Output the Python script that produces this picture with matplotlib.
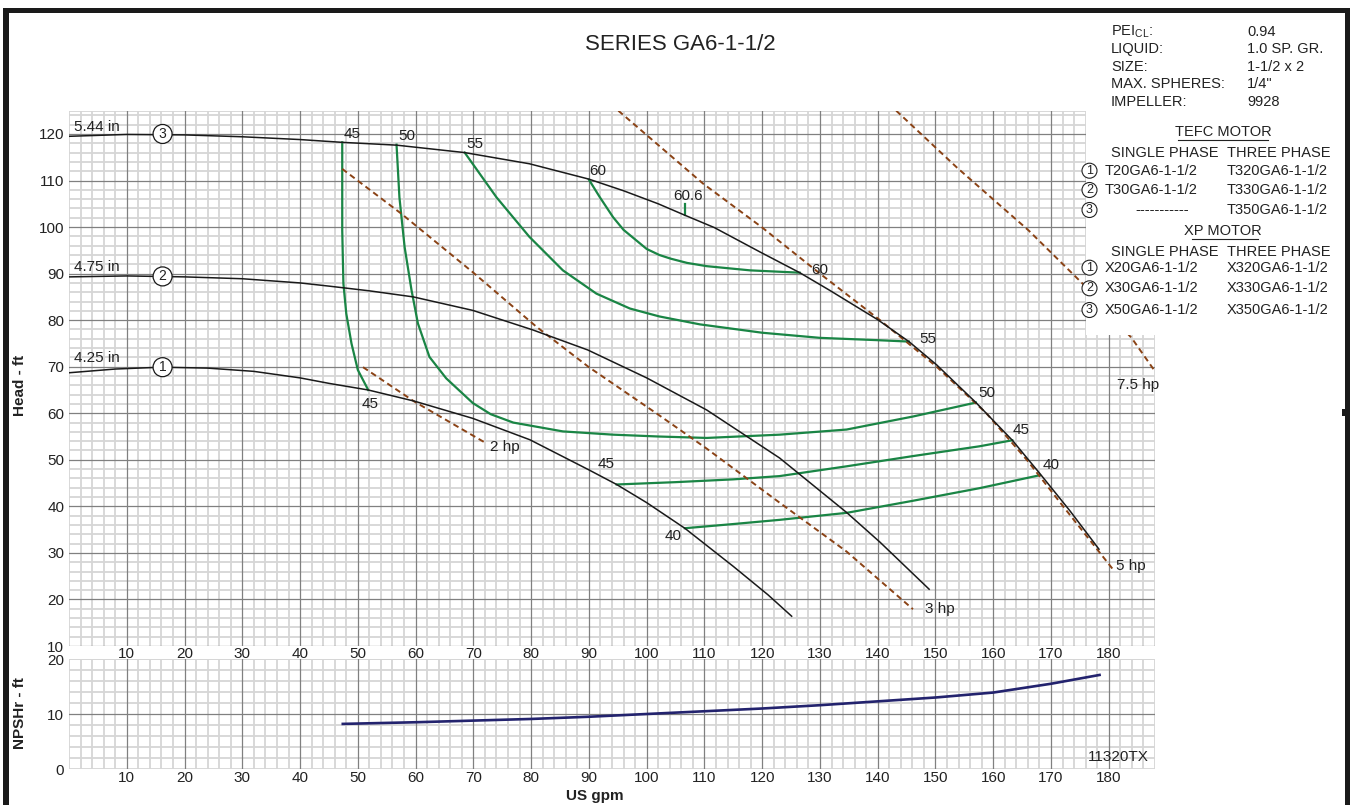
import numpy as np
import matplotlib
matplotlib.use('Agg')
import matplotlib.pyplot as plt
from matplotlib.patches import Rectangle
from matplotlib.lines import Line2D

plt.rcParams['font.family'] = ['Liberation Sans', 'DejaVu Sans']

W, H = 1350, 805

# impeller head curves (US gpm, ft)
d544_x = [0, 10, 20, 30, 40, 47.3, 56.7, 68.5, 79.7, 90, 96, 102, 106.7, 111.7, 119.7, 126.5,
          131.7, 140, 145.4, 150.2, 157, 163.3, 168.1, 173.3, 178.3]
d544_y = [119.5, 119.9, 119.8, 119.4, 118.8, 118.2, 117.6, 116.0, 113.6, 110.3, 107.8, 105.0,
          102.5, 99.9, 94.6, 90.2, 86.4, 80.1, 75.4, 70.4, 62.3, 54.2, 47.0, 39.0, 30.8]
d475_x = [0, 10, 20, 30, 40, 45.1, 52, 59.6, 69.9, 80.3, 89.8, 100, 110.4, 123, 134.6, 140.4, 148.9]
d475_y = [89.3, 89.5, 89.3, 88.9, 88.0, 87.3, 86.3, 85.0, 82.1, 77.9, 73.6, 67.6, 60.7, 50.4, 38.7, 32.3, 22.2]
d425_x = [0, 8, 16, 24, 32, 40, 45.1, 51.8, 59.8, 69.9, 79.8, 89.9, 94.8, 100, 106.6, 115, 121, 125.1]
d425_y = [68.7, 69.5, 69.9, 69.7, 69.0, 67.6, 66.4, 65.0, 62.6, 58.9, 54.3, 47.9, 44.7, 40.8, 35.3, 27.1, 21.0, 16.4]

# efficiency curves
e45a_x = [47.3, 47.3, 47.5, 48.0, 48.9, 50.0, 51.8]
e45a_y = [118.2, 99.3, 87.9, 81.4, 75.0, 69.3, 65.0]
e50_x = [56.7, 57.2, 58.1, 59.3, 60.4, 62.4, 65.3, 69.9, 73.0, 76.9, 85.5, 94.2, 102.2, 110.4, 123, 134.6,
         146.1, 157]
e50_y = [117.7, 106.4, 95.7, 86.4, 79.3, 72.1, 67.5, 62.2, 59.8, 58.0, 56.1, 55.4, 55.0, 54.7, 55.4, 56.5,
         59.3, 62.3]
e55_x = [68.5, 74.0, 79.7, 85.5, 91.3, 97.1, 102.2, 109.2, 120, 130, 140, 145.4]
e55_y = [116.0, 106.4, 97.9, 90.7, 85.7, 82.5, 80.8, 79.1, 77.3, 76.2, 75.7, 75.4]
e60_x = [90, 91.9, 94.2, 96, 100, 102.2, 104.2, 107, 110.4, 117.9, 126.5]
e60_y = [110.2, 106.4, 102.1, 99.4, 95.3, 94.0, 93.2, 92.3, 91.6, 90.7, 90.2]
e606_x = [106.7, 106.7]
e606_y = [102.5, 105.0]
e45b_x = [94.8, 105, 115, 123, 134.6, 146.1, 157.6, 163.3]
e45b_y = [44.7, 45.2, 45.8, 46.5, 48.6, 50.8, 52.9, 54.2]
e40_x = [106.6, 115, 123, 134.6, 146.1, 157.6, 168.1]
e40_y = [35.3, 36.2, 37.1, 38.6, 41.2, 43.9, 46.7]

# motor power lines
hp2_x = [50.9, 59.8, 72.3]
hp2_y = [69.9, 62.5, 53.5]
hp3_x = [47.3, 57.5, 69.9, 80.9, 90, 101.9, 110.4, 123, 134.6, 146.1]
hp3_y = [112.5, 102.9, 90.3, 78.6, 69.9, 59.8, 52.4, 40.8, 30.3, 17.9]
hp5_x = [95.1, 109.8, 119.9, 130, 140.4, 150.2, 158.8, 165.8, 172.1, 180.7]
hp5_y = [125, 109.3, 100, 90, 80, 70, 60, 50, 40, 26.5]
hp75_x = [143.2, 153.7, 166.1, 176.0, 184.0, 188.0]
hp75_y = [125, 112.8, 99.3, 87.2, 76.1, 69.0]

# NPSHr
npsh_x = [47.4, 60, 70, 80, 90, 100, 110, 120, 130, 140, 150, 160, 170, 178.4]
npsh_y = [8.2, 8.5, 8.8, 9.1, 9.5, 10.0, 10.5, 11.0, 11.6, 12.3, 13.0, 13.9, 15.5, 17.1]

eff_labels = [('45', 49.0, 120.0), ('50', 58.5, 119.6), ('55', 70.2, 117.9), ('60', 91.5, 112.1),
              ('60.6', 107.1, 106.7), ('60', 130.0, 90.7), ('55', 148.7, 76.0), ('50', 158.9, 64.4),
              ('45', 164.9, 56.5), ('40', 170.1, 48.8), ('45', 52.1, 61.9), ('45', 92.9, 49.0),
              ('40', 104.5, 33.6)]
hp_labels = [('2 hp', 72.8, 52.8), ('3 hp', 148.2, 17.9), ('5 hp', 181.3, 27.2), ('7.5 hp', 181.4, 66.1)]
dia_labels = [('5.44 in', 120.1, '3', 120.0), ('4.75 in', 90.0, '2', 89.4), ('4.25 in', 70.4, '1', 69.9)]

info_keys = ['PEI$_{\\mathregular{CL}}$:', 'LIQUID:', 'SIZE:', 'MAX. SPHERES:', 'IMPELLER:']
info_vals = ['0.94', '1.0 SP. GR.', '1-1/2 x 2', '1/4"', '9928']
tefc_single = ['T20GA6-1-1/2', 'T30GA6-1-1/2', '-----------']
tefc_three = ['T320GA6-1-1/2', 'T330GA6-1-1/2', 'T350GA6-1-1/2']
xp_single = ['X20GA6-1-1/2', 'X30GA6-1-1/2', 'X50GA6-1-1/2']
xp_three = ['X320GA6-1-1/2', 'X330GA6-1-1/2', 'X350GA6-1-1/2']

GREEN = '#1a8545'
BROWN = '#8a4215'
TXT = '#222222'
LIGHT = '#d6d6d6'
DARK = '#808080'


def fx(x):
    return x / W


def fy(y):
    return 1 - y / H


def draw_grid(ax, xmax, ymin, ymax, ymajor):
    for x in np.arange(0, xmax + 0.1, 2):
        if x % 10 == 0 and 0 < x < xmax:
            continue
        ax.axvline(x, color=LIGHT, lw=1.3, zorder=0)
    for y in np.arange(ymin, ymax + 0.1, 2):
        if y in ymajor:
            continue
        ax.axhline(y, color=LIGHT, lw=1.3, zorder=0)
    ax.axhline(ymax, color=LIGHT, lw=1.3, zorder=0)
    for x in range(10, int(xmax) + 1, 10):
        ax.axvline(x, color=DARK, lw=0.9, zorder=0.5)
    for y in ymajor:
        ax.axhline(y, color=DARK, lw=0.9, zorder=0.5)
    for s in ax.spines.values():
        s.set_visible(False)


fig = plt.figure(figsize=(W / 100, H / 100), dpi=100)
ax1 = fig.add_axes([fx(69), fy(646), 1086 / W, (646 - 110.7) / H])
ax2 = fig.add_axes([fx(69), fy(769), 1086 / W, 110 / H])

ax1.set_xlim(0, 188)
ax1.set_ylim(10, 125)
ax2.set_xlim(0, 188)
ax2.set_ylim(0, 20)
draw_grid(ax1, 188, 10, 125, list(range(10, 121, 10)))
draw_grid(ax2, 188, 0, 20, [10])

for ax in (ax1, ax2):
    ax.set_xticks(range(10, 181, 10))
    ax.tick_params(length=0, labelsize=11, labelcolor=TXT)
ax1.set_yticks(range(10, 121, 10))
ax2.set_yticks([0, 10, 20])
ax1.tick_params(axis='x', pad=0.5)
ax2.tick_params(axis='x', pad=1.5)
ax1.tick_params(axis='y', pad=3.5)
ax2.tick_params(axis='y', pad=3.5)

# head curves
for xs, ys in [(d544_x, d544_y), (d475_x, d475_y), (d425_x, d425_y)]:
    ax1.plot(xs, ys, color='#1a1a1a', lw=1.1, zorder=3)

for xs, ys in [(e45a_x, e45a_y), (e50_x, e50_y), (e55_x, e55_y), (e60_x, e60_y),
               (e606_x, e606_y), (e45b_x, e45b_y), (e40_x, e40_y)]:
    ax1.plot(xs, ys, color=GREEN, lw=1.6, zorder=2)

for xs, ys in [(hp2_x, hp2_y), (hp3_x, hp3_y), (hp5_x, hp5_y), (hp75_x, hp75_y)]:
    ax1.plot(xs, ys, color=BROWN, lw=1.4, dashes=(3, 2), zorder=2.5)

for t, x, y in eff_labels:
    ax1.text(x, y, t, fontsize=11, color=TXT, ha='center', va='center', zorder=6)
for t, x, y in hp_labels:
    ax1.text(x, y, t, fontsize=11, color=TXT, ha='left', va='center', zorder=6)
for t, ty, n, cy in dia_labels:
    ax1.text(0.9, ty, t, fontsize=11, color=TXT, ha='left', va='bottom', zorder=6)
    ax1.text(16.2, cy, n, fontsize=10, color=TXT, ha='center', va='center', zorder=6,
             bbox=dict(boxstyle='circle,pad=0.18', fc='white', ec='#1a1a1a', lw=0.9))

# white panel behind the info block
ax1.add_patch(Rectangle((176.0, 76.8), 20, 60, fc='white', ec='none', zorder=5))

ax2.plot(npsh_x, npsh_y, color='#23236e', lw=1.9, zorder=3)
ax2.text(187.0, 2.2, '11320TX', fontsize=11, color=TXT, ha='right', va='center')

# axis titles
fig.text(fx(20), fy(385), 'Head - ft', rotation=90, fontsize=11, fontweight='bold',
         ha='center', va='center', color=TXT)
fig.text(fx(20), fy(713), 'NPSHr - ft', rotation=90, fontsize=11, fontweight='bold',
         ha='center', va='center', color=TXT)
fig.text(fx(595), fy(796), 'US gpm', fontsize=11, fontweight='bold', ha='center', va='center', color=TXT)
fig.text(fx(680), fy(45), 'SERIES GA6-1-1/2', fontsize=16, ha='center', va='center', color=TXT)

# info block
fs = 10.5
for k, v, y in zip(info_keys, info_vals, [31.7, 49.3, 66.7, 84, 101.7]):
    fig.text(fx(1111), fy(y), k, fontsize=fs, ha='left', va='center', color=TXT)
    fig.text(fx(1247), fy(y), v, fontsize=fs, ha='left', va='center', color=TXT)


def motor_block(title, ytitle, single, three, ycols, yrows, ux):
    fig.text(fx(1223), fy(ytitle), title, fontsize=fs, ha='center', va='center', color=TXT)
    fig.add_artist(Line2D([fx(ux[0]), fx(ux[1])], [fy(ytitle + 8)] * 2, color=TXT, lw=0.8))
    fig.text(fx(1111), fy(ycols), 'SINGLE PHASE', fontsize=fs, ha='left', va='center', color=TXT)
    fig.text(fx(1227), fy(ycols), 'THREE PHASE', fontsize=fs, ha='left', va='center', color=TXT)
    for i, (s, t, y) in enumerate(zip(single, three, yrows)):
        fig.text(fx(1089.5), fy(y), str(i + 1), fontsize=9, ha='center', va='center', color=TXT,
                 bbox=dict(boxstyle='circle,pad=0.12', fc='white', ec=TXT, lw=0.8))
        if s.startswith('-'):
            fig.text(fx(1162), fy(y), s, fontsize=fs, ha='center', va='center', color=TXT)
        else:
            fig.text(fx(1105), fy(y), s, fontsize=fs, ha='left', va='center', color=TXT)
        fig.text(fx(1227), fy(y), t, fontsize=fs, ha='left', va='center', color=TXT)


motor_block('TEFC MOTOR', 132.3, tefc_single, tefc_three, 153.3, [170.7, 190, 210], (1178, 1268))
motor_block('XP MOTOR', 231, xp_single, xp_three, 251.7, [267.7, 288.3, 310], (1192, 1258))

# frame
for x0, y0, w, h in [(3, 8, 6, 797), (3, 8, 1347, 5), (1345, 8, 5, 797), (1342, 409, 3, 7)]:
    fig.add_artist(Rectangle((fx(x0), fy(y0 + h)), w / W, h / H, transform=fig.transFigure,
                             fc='#1a1a1a', ec='none'))

fig.savefig('out.png', dpi=100)
